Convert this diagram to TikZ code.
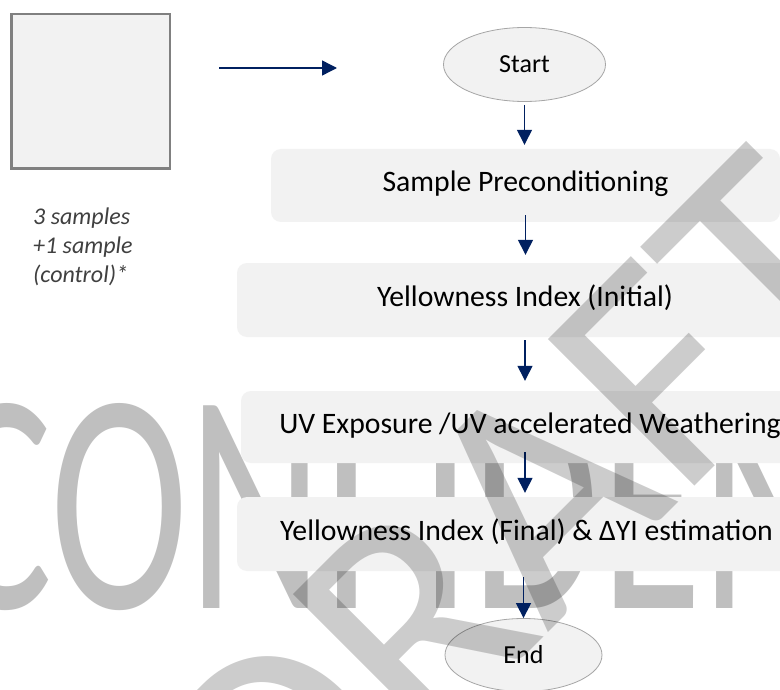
\documentclass[tikz,border=0pt]{standalone}
\usepackage{fontspec}
\setmainfont{Carlito}
\newfontfamily\wmfont{Carlito}[Kerning=Off]
\usepackage{graphicx}
\usetikzlibrary{arrows.meta,shapes.geometric}
\definecolor{boxfill}{HTML}{F2F2F2}
\definecolor{navy}{HTML}{002060}
\definecolor{sqborder}{HTML}{808080}
\definecolor{ellborder}{HTML}{A6A6A6}
\definecolor{wmark}{HTML}{BFBFBF}
\definecolor{captxt}{HTML}{404040}
\tikzset{
  stepbox/.style={fill=boxfill, rounded corners=10pt, inner sep=0pt,
    font=\fontsize{29.7}{34}\selectfont, text height=20pt, text depth=8pt},
  termin/.style={ellipse, draw=ellborder, line width=0.8pt, fill=boxfill, inner sep=0pt,
    minimum width=162pt, minimum height=74pt, font=\fontsize{26}{30}\selectfont},
  arr/.style={draw=navy, line width=1.4pt, -{Triangle[width=15pt,length=15pt]}},
}
\begin{document}
\begin{tikzpicture}[x=1pt,y=-1pt]
\useasboundingbox (0,0) rectangle (780,690);
\clip (0,0) rectangle (780,690);
\fill[white] (0,0) rectangle (780,690);
% watermark behind
\node[anchor=base west, inner sep=0pt, text=wmark, font=\fontsize{316}{316}\selectfont] (wm1) at (-59,608) {\scalebox{0.66}[1]{CONFIDENTIAL}};
% sample square
\node[draw=sqborder, line width=2.5pt, fill=boxfill, minimum width=158.5pt, minimum height=154.5pt, inner sep=0pt] (sq) at (90.5,91.5) {};
\node[anchor=north west, inner sep=0pt, align=left, text=captxt, font=\fontsize{24}{29}\selectfont\itshape] (cap) at (33,208) {3 samples\\+1 sample\\(control)*};
\coordinate (ha) at (219,68);
\coordinate (hb) at (337,68);
\draw[arr] (ha) -- (hb);
% flow
\node[termin] (start) at (524.5,64.5) {Start};
\node[stepbox, minimum width=509pt, minimum height=73pt] (b1) at (525.5,185.5) {Sample Preconditioning};
\node[stepbox, minimum width=576pt, minimum height=74pt] (b2) at (525,300) {Yellowness Index (Initial)};
\node[stepbox, minimum width=578pt, minimum height=72pt] (b3) at (530,427) {UV Exposure /UV accelerated Weathering};
\node[stepbox, minimum width=579pt, minimum height=74pt] (b4) at (526.5,534) {Yellowness Index (Final) \& ΔYI estimation};
\node[termin, minimum width=157pt, minimum height=73pt] (endn) at (523.5,655) {End};
\draw[arr, shorten <=3pt, shorten >=4pt] (start.south) -- (start.south |- b1.north);
\draw[arr, shorten <=-7pt, shorten >=8pt] (b1.south) -- (b1.south |- b2.north);
\draw[arr, shorten <=3pt, shorten >=10pt] (b2.south) -- (b2.south |- b3.north);
\draw[arr, shorten <=-11pt, shorten >=4pt] (b2.south |- b3.south) -- (b2.south |- b4.north);
\draw[arr, shorten <=6pt] (b4.south -| endn.north) -- (endn.north);
% watermark on top
\node[rotate=45, anchor=base west, inner sep=0pt, text=black, text opacity=0.2, font=\wmfont\fontsize{323}{323}\selectfont] (wm2) at (283,898) {DRAFT};
\end{tikzpicture}
\end{document}
